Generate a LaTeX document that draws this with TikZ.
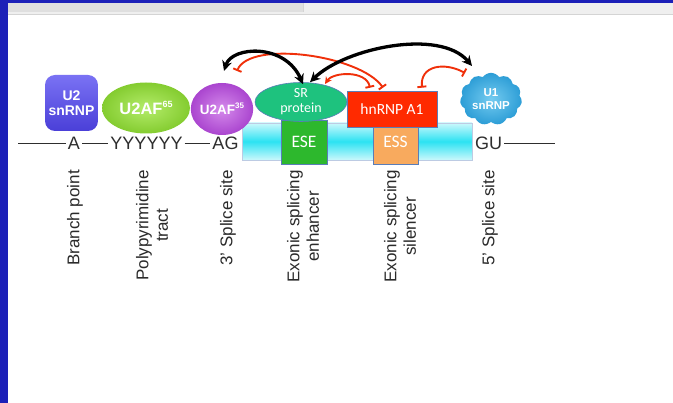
\documentclass[tikz,border=0pt]{standalone}
\usepackage{fontspec}
\setmainfont{Liberation Sans}
\newfontfamily\calib{Carlito}
\usetikzlibrary{arrows.meta,shapes.geometric,shapes.symbols}
\definecolor{frameblue}{HTML}{1C20B8}
\definecolor{barg}{HTML}{EFEFEF}
\definecolor{barl}{HTML}{D4D4D4}
\definecolor{seqc}{HTML}{2E2E2E}
\definecolor{labc}{HTML}{2A2A2A}
\definecolor{eseg}{HTML}{2DB82D}
\definecolor{esso}{HTML}{F8AA5E}
\definecolor{srg}{HTML}{1EC27E}
\definecolor{hnr}{HTML}{FF2A00}
\definecolor{edgeb}{HTML}{5A7DB8}
\definecolor{cyanm}{HTML}{2CE2F2}
\definecolor{cyanl}{HTML}{CBF8FC}
\definecolor{u65i}{HTML}{B4EC6A}
\definecolor{u65o}{HTML}{84CC30}
\definecolor{u35i}{HTML}{D58AEB}
\definecolor{u35o}{HTML}{AA45CF}
\definecolor{u2t}{HTML}{7A72F4}
\definecolor{u2b}{HTML}{4A3FD8}
\definecolor{u1i}{HTML}{74CBF0}
\definecolor{u1o}{HTML}{2C9DD6}
\definecolor{inhr}{HTML}{F0300A}
\begin{document}
\begin{tikzpicture}[x=1pt,y=-1pt,
  seq/.style={text=seqc,font=\fontsize{18}{18}\selectfont,text height=13pt,text depth=0pt,inner sep=2pt},
  lab/.style={rotate=90,anchor=east,text=labc,font=\fontsize{17}{19.5}\selectfont,align=center,inner sep=0pt},
  prot/.style={text=white,font=\bfseries,align=center,inner sep=0pt},
  calibtxt/.style={text=white,align=center,inner sep=0pt},
  actarrow/.style={line width=3.3pt,black,{Stealth[length=10pt,width=10pt]}-{Stealth[length=10pt,width=10pt]}},
  inhline/.style={line width=1.9pt,inhr,{Bar[width=9pt,line width=1.9pt]}-{Bar[width=9pt,line width=1.9pt]}},
  seqline/.style={line width=1.5pt,seqc}]
\useasboundingbox (0,0) rectangle (673,403);
% frame and toolbar
\fill[white] (0,0) rectangle (673,403);
\fill[barg] (8,3) rectangle (673,14);
\fill[barl!60!barg] (8,3) rectangle (303,12);
\draw[barl,line width=1pt] (303,3) -- (303,12);
\draw[barl,line width=1.2pt] (8,14.5) -- (673,14.5);
\fill[frameblue] (0,0) rectangle (673,3.5);
\fill[frameblue] (0,0) rectangle (8,403);
% exon
\node[draw=edgeb!40,line width=0.6pt,minimum width=230pt,minimum height=37pt,inner sep=0pt,
  top color=cyanl,bottom color=cyanl,middle color=cyanm] (exon) at (357,141.5) {};
\node[draw=edgeb,line width=0.6pt,fill=eseg,minimum width=46pt,minimum height=44pt,calibtxt,
  font=\calib\fontsize{17.5}{17.5}\selectfont] (ese) at (304,142) {\raisebox{-3pt}{ESE}};
\node[draw=edgeb,line width=0.6pt,fill=esso,minimum width=45pt,minimum height=44pt,calibtxt,
  font=\calib\fontsize{17.5}{17.5}\selectfont] (ess) at (395.5,142) {\raisebox{-3pt}{ESS}};
% sequence
\node[seq] (A) at (74,143.5) {A};
\node[seq] (Y) at (146.5,143.5) {YYYYYY};
\node[seq] (AG) at (225.5,143.5) {AG};
\node[seq] (GU) at (488.5,143.5) {GU};
\draw[seqline] (A.west) -- ++(-48,0);
\draw[seqline] (A.east) -- (Y.west);
\draw[seqline] (Y.east) -- (AG.west);
\draw[seqline] (GU.east) -- ++(51,0);
% proteins
\node[rounded corners=10pt,minimum width=53pt,minimum height=56pt,top color=u2t,bottom color=u2b,
  prot,font=\bfseries\fontsize{14}{15}\selectfont] (u2) at (71.5,103) {U2\\snRNP};
\node[ellipse,minimum width=88pt,minimum height=51pt,inner color=u65i,outer color=u65o,
  prot,font=\bfseries\fontsize{16.5}{16.5}\selectfont] (u65) at (146,108)
  {U2AF\raisebox{0.42em}{\fontsize{9}{9}\selectfont 65}};
\node[ellipse,minimum width=61pt,minimum height=52pt,inner color=u35i,outer color=u35o,
  prot,font=\bfseries\fontsize{13.5}{13.5}\selectfont] (u35) at (222,109)
  {U2AF\raisebox{0.42em}{\fontsize{8}{8}\selectfont 35}};
\node[ellipse,draw=edgeb,line width=0.6pt,fill=srg,minimum width=92pt,minimum height=39pt,
  calibtxt,font=\calib\fontsize{14}{15}\selectfont] (sr) at (301,102) {SR\\protein};
\node[draw=edgeb,line width=0.6pt,fill=hnr,minimum width=90pt,minimum height=36pt,
  calibtxt,font=\calib\fontsize{15.5}{15.5}\selectfont] (hn) at (392,109) {\raisebox{-2pt}{hnRNP A1}};
\node[cloud,cloud puffs=11,cloud puff arc=110,aspect=1.15,minimum width=62pt,minimum height=52pt,
  inner color=u1i,outer color=u1o,prot,font=\bfseries\fontsize{11.5}{12.5}\selectfont] (u1) at (491,99) {U1\\snRNP};
% labels
\node[lab] (lbp) at (75,170) {Branch point};
\node[lab] (lpy) at (152,170) {Polypyrimidine\\tract};
\node[lab] (l3s) at (228,170) {3' Splice site};
\node[lab] (lese) at (303,170) {Exonic splicing\\enhancer};
\node[lab] (less) at (400,170) {Exonic splicing\\silencer};
\node[lab] (l5s) at (490,170) {5' Splice site};
% interactions
\draw[inhline] ([shift={(15,-38)}]u35.center) .. controls (250,40) and (360,55) .. ([shift={(-9,-3)}]hn.north);
\draw[actarrow] ([shift={(2,-12)}]u35.north) .. controls (232,46) and (285,43) .. ([shift={(2,2)}]sr.north);
\draw[actarrow] ([shift={(9,0)}]sr.north) .. controls (345,48) and (440,28) .. ([shift={(-19,-33)}]u1.center);
\draw[line width=1.9pt,inhr,{Stealth[length=7pt,width=7pt]}-{Bar[width=9pt,line width=1.9pt]}]
  ([shift={(24,-18)}]sr.center) .. controls (333,72) and (366,70) .. ([shift={(-22,-3)}]hn.north);
\draw[inhline] ([shift={(30,-3)}]hn.north) .. controls (420,65) and (445,62) .. ([shift={(-26,-26)}]u1.center);
\end{tikzpicture}
\end{document}
